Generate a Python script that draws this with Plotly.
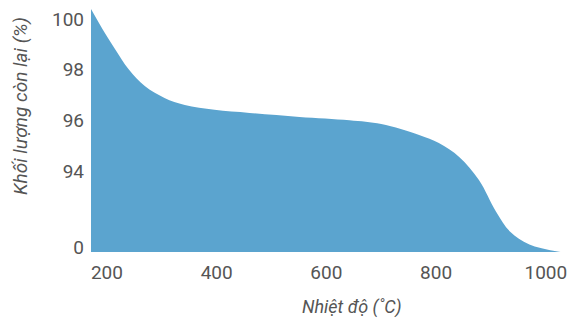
import plotly.graph_objects as go

temperature = [171, 196, 215, 240, 269, 305, 342, 396, 460, 551, 642, 700, 769, 805, 842, 878, 909, 935, 970, 1038]
mass_left = [100.39, 99.45, 98.8, 98.0, 97.35, 96.88, 96.6, 96.41, 96.29, 96.13, 96.0, 95.85, 95.42, 95.1, 94.55, 93.64, 92.4, 91.6, 91.1, 90.76]
x_ticks = [200, 400, 600, 800, 1000]
y_tickvals = [91, 94, 96, 98, 100]
y_ticktext = ["0", "94", "96", "98", "100"]

fill_color = "#5ba4cf"
font_family = "Roboto, sans-serif"
text_color = "#555555"

fig = go.Figure()
fig.add_trace(go.Scatter(
    x=temperature, y=mass_left, mode="lines",
    line=dict(shape="spline", smoothing=1.0, width=0, color=fill_color),
    fill="tozeroy", fillcolor=fill_color, hoverinfo="skip",
))

# the page body has an 8px margin, so the figure is shifted by 8px right and down
fig.update_layout(
    width=581, height=320,
    margin=dict(l=83, r=19, t=0, b=76, autoexpand=False),
    paper_bgcolor="white", plot_bgcolor="white",
    showlegend=False,
    font=dict(family=font_family, color=text_color, size=19),
    xaxis=dict(range=[171, 1044], tickvals=x_ticks, showgrid=False, zeroline=False,
               showline=False, ticks="", ticklabelstandoff=7, ticklabeloverflow="allow",
               tickfont=dict(size=19, color=text_color)),
    yaxis=dict(range=[90.8, 100.43], tickvals=y_tickvals, ticktext=y_ticktext,
               showgrid=False, zeroline=False, showline=False, ticks="",
               ticklabelstandoff=6, ticklabeloverflow="allow",
               tickfont=dict(size=19, color=text_color)),
    annotations=[
        dict(text="Nhiệt độ (˚C)", xref="paper", yref="paper",
             x=(344 - 83) / 479, y=-(299 - 244) / 244, xanchor="center", yanchor="middle",
             showarrow=False, font=dict(family=font_family, size=18, color=text_color, style="italic")),
        dict(text="Khối lượng còn lại (%)", xref="paper", yref="paper", textangle=-90,
             x=(12 - 83) / 479, y=(244 - 98) / 244, xanchor="center", yanchor="middle",
             showarrow=False, font=dict(family=font_family, size=19, color=text_color, style="italic")),
    ],
)

fig.write_html("out.html")
